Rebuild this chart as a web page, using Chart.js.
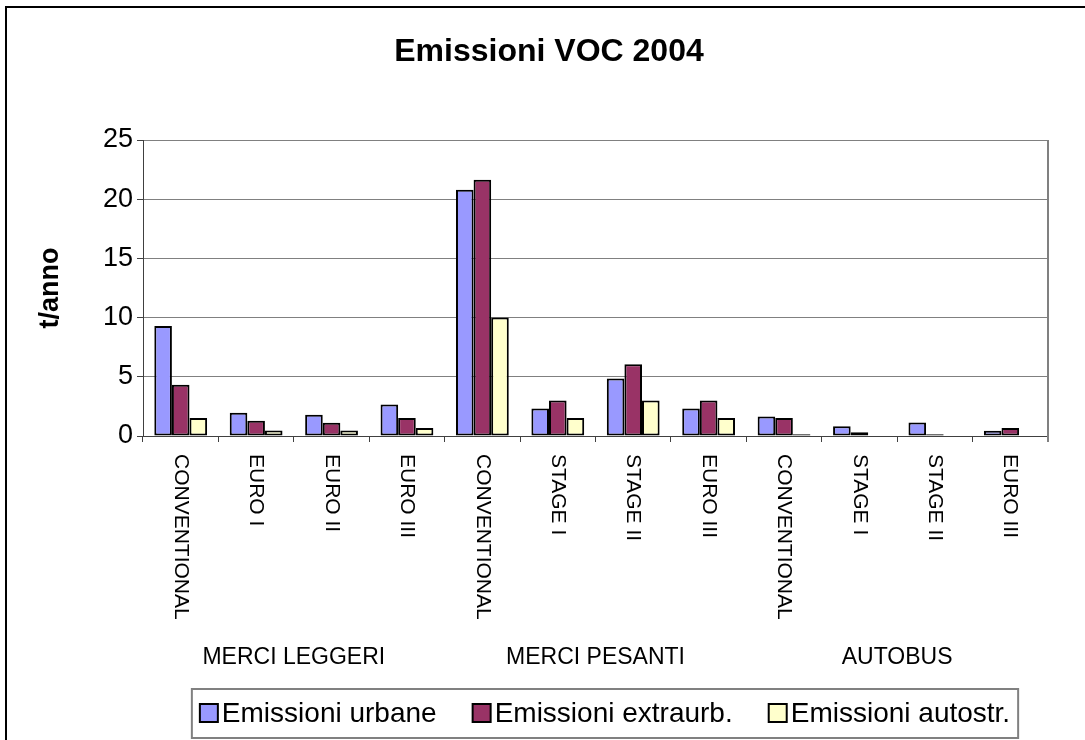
<!DOCTYPE html>
<html>
<head>
<meta charset="utf-8">
<script src="https://cdn.jsdelivr.net/npm/chart.js@4.4.0/dist/chart.umd.min.js"></script>
<style>
  html, body { margin: 0; padding: 0; background: #fff; }
  #wrap { width: 1085px; height: 740px; position: relative; }
</style>
</head>
<body>
<div id="wrap"><canvas id="vocChart"></canvas></div>
<script>
// Emissioni VOC 2004 (t/anno)
const categories = ['CONVENTIONAL', 'EURO I', 'EURO II', 'EURO III',
                    'CONVENTIONAL', 'STAGE I', 'STAGE II', 'EURO III',
                    'CONVENTIONAL', 'STAGE I', 'STAGE II', 'EURO III'];
const groupLabels = ['MERCI LEGGERI', 'MERCI PESANTI', 'AUTOBUS'];
const groupSizes = [4, 4, 4];

const urbane   = [9.3, 1.97, 1.8, 2.65, 20.8, 2.33, 4.85, 2.33, 1.65, 0.82, 1.15, 0.45];
const extraurb = [4.32, 1.29, 1.12, 1.51, 21.65, 3.0, 6.05, 3.0, 1.51, 0.31, 0.15, 0.67];
const autostr  = [1.51, 0.47, 0.47, 0.67, 10.0, 1.51, 3.0, 1.51, 0.14, 0, 0, 0];

const yTicks = [0, 5, 10, 15, 20, 25];
const chartTitle = 'Emissioni VOC 2004';

const FONT = '"Liberation Sans", Arial, sans-serif';
Chart.defaults.font.family = FONT;
Chart.defaults.color = '#000';

// frame round the whole picture (only left and top are visible) + title
const frame = {
    id: 'frame',
    afterDraw(chart) {
        const ctx = chart.ctx;
        ctx.save();
        ctx.strokeStyle = '#000';
        ctx.lineWidth = 2;
        ctx.strokeRect(6, 7, 1200, 1000);
        ctx.fillStyle = '#000';
        ctx.font = 'bold 32px ' + FONT;
        ctx.textAlign = 'center';
        ctx.textBaseline = 'middle';
        ctx.fillText(chartTitle, 549, 52);
        ctx.restore();
    }
};

// right border of the plot area
const plotBorder = {
    id: 'plotBorder',
    afterDatasetsDraw(chart) {
        const a = chart.chartArea, ctx = chart.ctx;
        ctx.save();
        ctx.strokeStyle = '#808080';
        ctx.lineWidth = 2;
        ctx.beginPath();
        ctx.moveTo(a.right, a.top);
        ctx.lineTo(a.right, a.bottom + 6);
        ctx.stroke();
        ctx.restore();
    }
};

// category labels rotated clockwise + group labels underneath
const xLabels = {
    id: 'xLabels',
    afterDraw(chart) {
        const x = chart.scales.x, ctx = chart.ctx;
        ctx.save();
        ctx.fillStyle = '#000';
        ctx.font = '21px ' + FONT;
        ctx.textAlign = 'left';
        ctx.textBaseline = 'middle';
        categories.forEach((lab, i) => {
            ctx.save();
            ctx.translate(x.getPixelForValue(i), x.top + 18);
            ctx.rotate(Math.PI / 2);
            ctx.fillText(lab, 0, 0);
            ctx.restore();
        });
        ctx.font = '23px ' + FONT;
        ctx.textAlign = 'center';
        let start = 0;
        groupLabels.forEach((g, k) => {
            const end = start + groupSizes[k] - 1;
            const cx = (x.getPixelForValue(start) + x.getPixelForValue(end)) / 2;
            ctx.fillText(g, cx, x.top + 222);
            start = end + 1;
        });
        ctx.restore();
    }
};

// legend in a box at the bottom
const legendBox = {
    id: 'legendBox',
    afterDraw(chart) {
        const ctx = chart.ctx;
        const sets = chart.data.datasets;
        ctx.save();
        ctx.font = '28px ' + FONT;
        const sq = 18, gap = 4, spacing = 36, pad = 8;
        const widths = sets.map(ds => sq + gap + ctx.measureText(ds.label).width);
        const total = widths.reduce((a, b) => a + b, 0) + spacing * (sets.length - 1);
        const boxW = total + pad * 2;
        const left = 605 - boxW / 2, top = 689, h = 49;
        ctx.strokeStyle = '#808080';
        ctx.lineWidth = 2;
        ctx.strokeRect(left, top, boxW, h);
        let cx = left + pad;
        const cy = top + 24;
        ctx.textBaseline = 'middle';
        ctx.textAlign = 'left';
        sets.forEach((ds, i) => {
            ctx.fillStyle = ds.backgroundColor;
            ctx.fillRect(cx, cy - sq / 2, sq, sq);
            ctx.strokeStyle = '#000';
            ctx.lineWidth = 2;
            ctx.strokeRect(cx, cy - sq / 2, sq, sq);
            ctx.fillStyle = '#000';
            ctx.fillText(ds.label, cx + sq + gap, cy + 1);
            cx += widths[i] + spacing;
        });
        ctx.restore();
    }
};

const ctx = document.getElementById('vocChart').getContext('2d');

new Chart(ctx, {
    type: 'bar',
    data: {
        labels: categories,
        datasets: [
            { label: 'Emissioni urbane', data: urbane, backgroundColor: '#9999FF' },
            { label: 'Emissioni extraurb.', data: extraurb, backgroundColor: '#993366' },
            { label: 'Emissioni autostr.', data: autostr, backgroundColor: '#FFFFCC' }
        ]
    },
    options: {
        responsive: true,
        maintainAspectRatio: false,
        animation: false,
        layout: { padding: { top: 140, left: 8, right: 37, bottom: 48 } },
        datasets: {
            bar: {
                borderColor: '#000',
                borderWidth: c => (c.raw === 0 ? 0 : 2),
                borderSkipped: false,
                categoryPercentage: 0.7,
                barPercentage: 1.0
            }
        },
        plugins: {
            legend: { display: false },
            tooltip: { enabled: false },
            title: { display: false }
        },
        scales: {
            x: {
                grid: {
                    drawOnChartArea: false,
                    drawTicks: true,
                    tickLength: 6,
                    tickColor: '#404040',
                    offset: true
                },
                border: { color: '#404040', width: 1 },
                ticks: { display: false },
                afterFit(scale) { scale.height = 256; }
            },
            y: {
                min: 0,
                max: 25,
                afterBuildTicks(scale) { scale.ticks = yTicks.map(v => ({ value: v })); },
                grid: { color: '#808080', lineWidth: 1, tickLength: 6, tickColor: '#404040' },
                border: { color: '#404040', width: 1 },
                ticks: { font: { size: 27 }, color: '#000', padding: 4 },
                title: {
                    display: true,
                    text: 't/anno',
                    font: { size: 27, weight: 'bold' },
                    color: '#000',
                    padding: { top: 26, bottom: 0 }
                },
                afterFit(scale) { scale.width = 135; }
            }
        }
    },
    plugins: [frame, plotBorder, xLabels, legendBox]
});
</script>
</body>
</html>
